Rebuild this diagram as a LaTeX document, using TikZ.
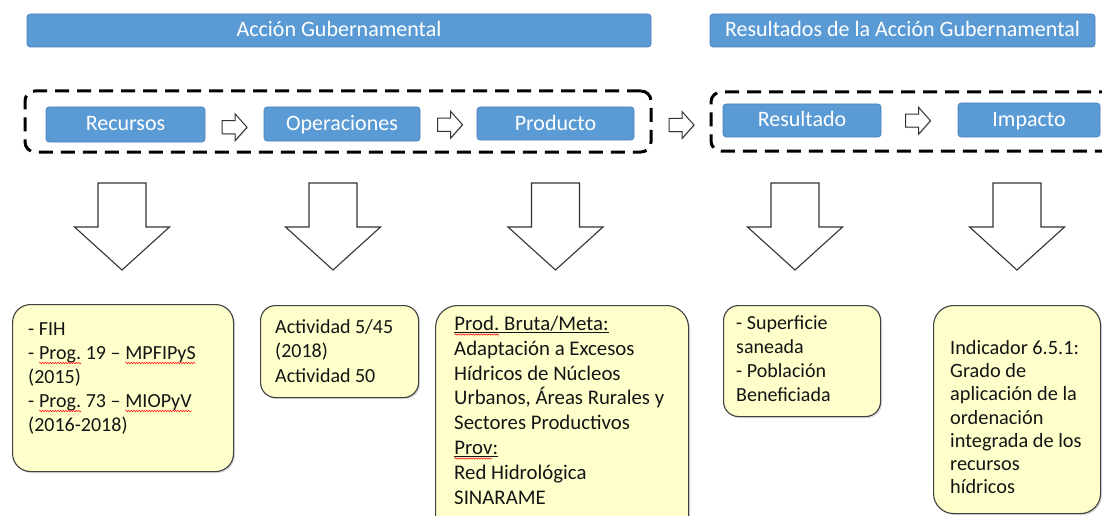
\documentclass[tikz,border=0pt]{standalone}
\usepackage{fontspec}
\setmainfont{Carlito}
\usetikzlibrary{shadows,decorations.pathmorphing,calc}
\definecolor{obar}{HTML}{5B9BD5}
\definecolor{oborder}{HTML}{4A7EBB}
\definecolor{ylw}{HTML}{FFFFCC}
\definecolor{ink}{HTML}{141414}
\newsavebox\ulbox
\newcommand\ulx[1]{\leavevmode\sbox\ulbox{#1}\rlap{\rule[-2.2pt]{\wd\ulbox}{0.8pt}}\usebox\ulbox}
\newcommand\sq[1]{\tikz[baseline=(sqw.base)]{\node[inner sep=0pt,outer sep=0pt,anchor=base](sqw){#1};\draw[red,line width=0.5pt,decorate,decoration={snake,amplitude=0.7pt,segment length=2.6pt}]([yshift=-4pt]sqw.base west)--([yshift=-4pt]sqw.base east);}}
\tikzset{
  bluebox/.style={draw=oborder, fill=obar, rounded corners=3pt, text=white, inner sep=0pt, line width=0.6pt, text height=15pt, text depth=2pt},
  titlefont/.style={font=\fontsize{22}{26}\selectfont},
  dashbox/.style={draw=black, line width=3pt, dash pattern=on 14pt off 8pt, rounded corners=10pt, inner sep=0pt},
  notebox/.style={draw=black!75, fill=ylw, rounded corners=18pt, line width=1.1pt, inner sep=0pt, anchor=north west, drop shadow={opacity=0.3,shadow xshift=1.5pt,shadow yshift=-1.5pt}},
  notetext/.style={anchor=base west, inner sep=0pt, text=ink},
  hollow/.style={draw=black!80, fill=white, line width=1pt, line join=miter},
  rarrow/.pic={\draw[hollow, drop shadow={opacity=0.25,shadow xshift=1pt,shadow yshift=-1pt}] (-12.5,-6.5) -- (0.5,-6.5) -- (0.5,-13.5) -- (12.5,0) -- (0.5,13.5) -- (0.5,6.5) -- (-12.5,6.5) -- cycle;},
  bigdown/.pic={\draw[hollow, line width=1.1pt] (-24,0) -- (24,0) -- (24,44) -- (47.5,44) -- (0,87) -- (-47.5,44) -- (-24,44) -- cycle;}
}
\begin{document}
\begin{tikzpicture}[x=1pt,y=-1pt]
\useasboundingbox (0,0) rectangle (1102,516);
\clip (0,0) rectangle (1102,516);
% headers
\node[bluebox, titlefont, minimum width=624pt, minimum height=33pt] (topA) at (339,30.5) {Acción Gubernamental};
\node[bluebox, titlefont, minimum width=385pt, minimum height=33pt] (topB) at (902.5,30.5) {Resultados de la Acción Gubernamental};
% groups
\node[dashbox, minimum width=626pt, minimum height=61pt] (grpA) at (338,121.5) {};
\node[dashbox, minimum width=412pt, minimum height=59pt] (grpB) at (917,121.5) {};
% chain boxes
\node[bluebox, titlefont, minimum width=159pt, minimum height=35pt] (rec) at (125.5,124.5) {Recursos};
\node[bluebox, titlefont, minimum width=156pt, minimum height=34pt] (ope) at (342,124) {Operaciones};
\node[bluebox, titlefont, minimum width=157pt, minimum height=33pt] (pro) at (555.5,123.5) {Producto};
\node[bluebox, titlefont, minimum width=158pt, minimum height=33pt] (res) at (802,120.5) {Resultado};
\node[bluebox, titlefont, minimum width=142pt, minimum height=34pt] (imp) at (1029,120) {Impacto};
% small arrows between boxes
\pic at ($(rec.east)!0.5!(ope.west)+(0,3)$) {rarrow};
\pic at ($(ope.east)!0.5!(pro.west)+(1.5,1)$) {rarrow};
\pic at ($(pro.east)!0.5!(res.west)+(3,3)$) {rarrow};
\pic at ($(res.east)!0.5!(imp.west)+(-1.5,0.5)$) {rarrow};
% big arrows
\pic at (122,183) {bigdown};
\pic at (333,183) {bigdown};
\pic at (555.5,183) {bigdown};
\pic at (795,183) {bigdown};
\pic at (1017,183) {bigdown};
% note boxes
\node[notebox, minimum width=221pt, minimum height=167pt] (n1) at (12,304) {};
\node[notebox, rounded corners=15pt, minimum width=158pt, minimum height=92pt] (n2) at (260,305) {};
\node[notebox, rounded corners=22pt, minimum width=253pt, minimum height=240pt] (n3) at (435,305) {};
\node[notebox, rounded corners=15pt, minimum width=157pt, minimum height=111pt] (n4) at (723,305) {};
\node[notebox, rounded corners=20pt, minimum width=167pt, minimum height=208pt] (n5) at (933,305) {};
% note texts
\node[notetext] (t1) at (28,335) {\parbox[t]{200pt}{\fontsize{20}{24}\selectfont\raggedright
- FIH\\
- \sq{Prog.} 19 – \sq{MPFIPyS}\\
(2015)\\
- \sq{Prog.} 73 – \sq{MIOPyV}\\
(2016-2018)}};
\node[notetext] (t2) at (275,333) {\parbox[t]{140pt}{\fontsize{20}{24.5}\selectfont\raggedright
Actividad 5/45\\
(2018)\\
Actividad 50}};
\node[notetext] (t3) at (454,330.5) {\parbox[t]{230pt}{\fontsize{20.8}{24.8}\selectfont\raggedright
\ulx{\sq{Prod.} Bruta/Meta:}\\
Adaptación a Excesos\\
Hídricos de Núcleos\\
Urbanos, Áreas Rurales y\\
Sectores Productivos\\
\ulx{\sq{Prov}:}\\
Red Hidrológica\\
SINARAME}};
\node[notetext] (t4) at (736,329) {\parbox[t]{140pt}{\fontsize{20}{24.3}\selectfont\raggedright
- Superficie\\
saneada\\
- Población\\
Beneficiada}};
\node[notetext] (t5) at (950,354.5) {\parbox[t]{145pt}{\fontsize{20.3}{23.2}\selectfont\raggedright
Indicador 6.5.1:\\
Grado de\\
aplicación de la\\
ordenación\\
integrada de los\\
recursos\\
hídricos}};
\end{tikzpicture}
\end{document}
